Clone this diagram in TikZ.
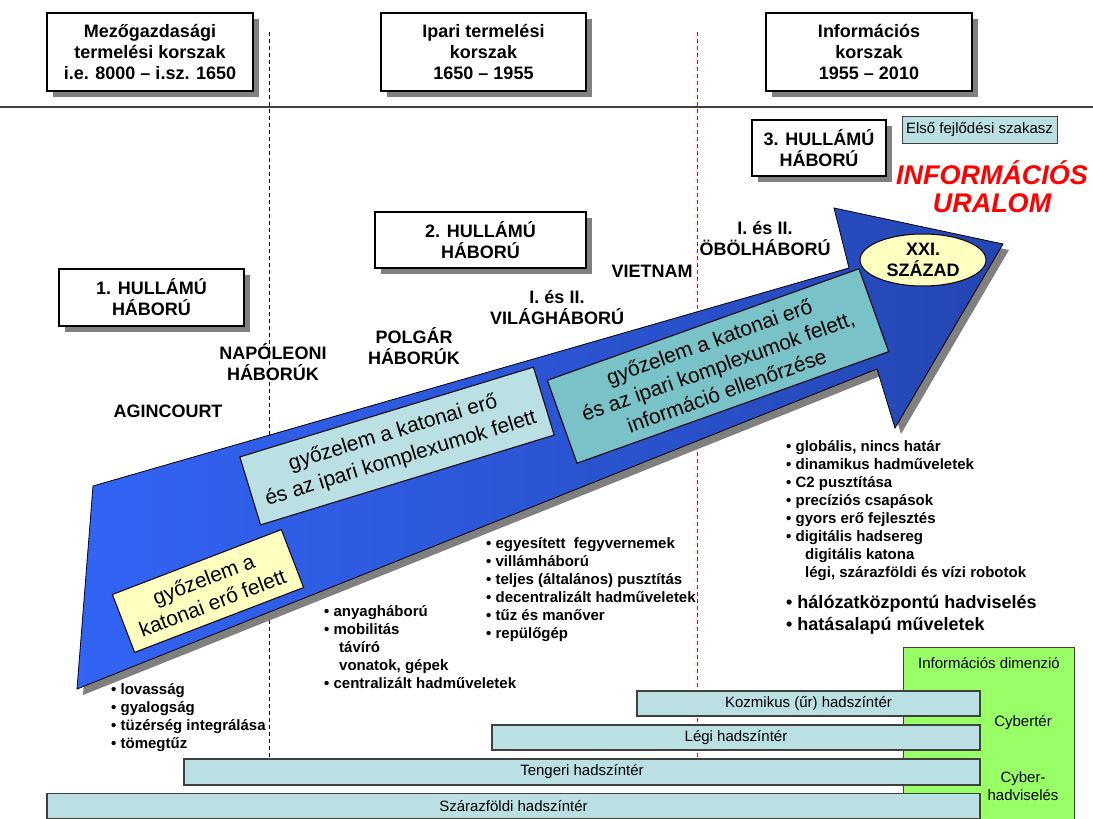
\documentclass[tikz,border=0pt]{standalone}
\usepackage{fontspec}
\setmainfont{Liberation Sans}
\usetikzlibrary{shapes.geometric,shadows}

\definecolor{arrowblue}{RGB}{50,100,245}
\definecolor{arrowdark}{RGB}{36,70,178}
\definecolor{paleyellow}{RGB}{255,255,192}
\definecolor{paletcyan}{RGB}{186,224,228}
\definecolor{tealbox}{RGB}{120,194,200}
\definecolor{cybergreen}{RGB}{153,255,102}
\definecolor{shadowgray}{RGB}{128,128,128}
\definecolor{framegray}{RGB}{64,64,64}

\tikzset{
  shd/.style={drop shadow={shadow xshift=6pt, shadow yshift=-6pt, fill=shadowgray, opacity=1}},
  era/.style={draw, line width=1.5pt, fill=white, shd, align=center, inner sep=0pt,
    font=\fontsize{18}{21}\selectfont\bfseries},
  war/.style={align=center, font=\fontsize{18}{21}\selectfont\bfseries},
  sash/.style={draw, line width=1pt, align=center, inner sep=0pt, font=\fontsize{21}{25}\selectfont},
  lst/.style={anchor=north west, align=left, inner sep=0pt, font=\fontsize{15}{18}\selectfont\bfseries},
  hadbar/.style={draw=framegray, line width=1.2pt, fill=paletcyan, inner sep=0pt,
    minimum height=25, font=\fontsize{15}{18}\selectfont},
  dimlbl/.style={align=center, font=\fontsize{15}{18}\selectfont},
}

\begin{document}
\begin{tikzpicture}[x=1pt, y=-1pt]
\useasboundingbox (0,0) rectangle (1093,819);

% era dividers
\draw[dash pattern=on 4pt off 3pt, line width=0.8pt] (269,32) -- (269,757);
\draw[red, dash pattern=on 4pt off 3pt, line width=0.8pt] (697,32) -- (697,757);

% era headers
\node[era, minimum width=206, minimum height=78] (agri) at (150,52) {Mezőgazdasági\\termelési korszak\\i.e. 8000 – i.sz. 1650};
\node[era, minimum width=205, minimum height=78] (ipar) at (483.5,52) {Ipari termelési\\korszak\\1650 – 1955};
\node[era, minimum width=206, minimum height=78] (info) at (869,52) {Információs\\korszak\\1955 – 2010};
\draw[framegray, line width=1.2pt] (0,107) -- (1093,107);

% waves
\node[era, minimum width=185, minimum height=57] (w1) at (151.5,297.5) {1. HULLÁMÚ\\HÁBORÚ};
\node[era, minimum width=211, minimum height=56] (w2) at (480.5,240) {2. HULLÁMÚ\\HÁBORÚ};
\node[era, minimum width=134, minimum height=56] (w3) at (819,148) {3. HULLÁMÚ\\HÁBORÚ};
\node[draw=framegray, line width=1pt, fill=paletcyan, minimum width=155, minimum height=27,
  inner sep=0pt, font=\fontsize{15}{18}\selectfont] (elso) at (979.5,129.5) {Első fejlődési szakasz};
\node[text=red, align=center, font=\fontsize{27}{28}\selectfont\bfseries\itshape] (uralom) at (992,187) {INFORMÁCIÓS\\URALOM};

% wars
\node[war] (agin) at (168,411) {AGINCOURT};
\node[war] (napo) at (273,362) {NAPÓLEONI\\HÁBORÚK};
\node[war] (polg) at (414,346) {POLGÁR\\HÁBORÚK};
\node[war] (vila) at (557,307) {I. és II.\\VILÁGHÁBORÚ};
\node[war] (viet) at (652,271) {VIETNAM};
\node[war] (obol) at (765,238) {I. és II.\\ÖBÖLHÁBORÚ};

% big arrow
\coordinate (tl) at (93,486);
\coordinate (nu) at (849,268);
\coordinate (ht) at (834,208);
\coordinate (tip) at (1003,244);
\coordinate (hb) at (895,428);
\coordinate (nl) at (877,369);
\coordinate (bl) at (77,689);
\path[draw, line width=0.8pt, left color=arrowblue, right color=arrowdark, shd]
  (tl) -- (nu) -- (ht) -- (tip) -- (hb) -- (nl) -- (bl) -- cycle;

\node[ellipse, draw, line width=1pt, fill=paleyellow, minimum width=126, minimum height=52, inner sep=0pt,
  align=center, font=\fontsize{18}{21}\selectfont\bfseries] (xxi) at (923,260) {XXI.\\SZÁZAD};

\node[sash, fill=paleyellow, rotate=21, minimum width=181, minimum height=62] (s1) at (208,591)
  {győzelem a\\katonai erő felett};
\node[sash, fill=paletcyan, rotate=17, minimum width=307, minimum height=71,
  font=\fontsize{21}{27}\selectfont] (s2) at (397,446)
  {győzelem a katonai erő\\és az ipari komplexumok felett};
\node[sash, fill=tealbox, rotate=19.7, minimum width=331, minimum height=88,
  font=\fontsize{21}{26}\selectfont] (s3) at (718,366)
  {győzelem a katonai erő\\és az ipari komplexumok felett,\\információ ellenőrzése};

% traits of each era
\node[lst] (l1) at (111,683) {• lovasság\\• gyalogság\\• tüzérség integrálása\\• tömegtűz};
\node[lst] (l2) at (324,605) {• anyagháború\\• mobilitás\\\hspace*{15pt}távíró\\\hspace*{15pt}vonatok, gépek\\• centralizált hadműveletek};
\node[lst] (l3) at (486,537) {• egyesített\ \ fegyvernemek\\• villámháború\\• teljes (általános) pusztítás\\• decentralizált hadműveletek\\• tűz és manőver\\• repülőgép};
\node[lst] (l4) at (786,440) {• globális, nincs határ\\• dinamikus hadműveletek\\• C2 pusztítása\\• precíziós csapások\\• gyors erő fejlesztés\\• digitális hadsereg\\\hspace*{19pt}digitális katona\\\hspace*{19pt}légi, szárazföldi és vízi robotok};
\node[lst, font=\fontsize{18}{22}\selectfont\bfseries] (l5) at (786,595) {• hálózatközpontú hadviselés\\• hatásalapú műveletek};

% battle spaces
\node[draw=framegray, line width=1.2pt, fill=cybergreen, anchor=north west, minimum width=171,
  minimum height=178, inner sep=0pt] (idim) at (903,647) {};
\node[dimlbl] (idimt) at (989,663) {Információs dimenzió};
\node[dimlbl] (cyt) at (1023,723) {Cybertér};
\node[dimlbl] (cyh) at (1023,786) {Cyber-\\hadviselés};

\node[hadbar, minimum width=343] (kozm) at (808.5,703.5) {Kozmikus (űr) hadszíntér};
\node[hadbar, minimum width=488] (legi) at (736,737.5) {Légi hadszíntér};
\node[hadbar, minimum width=796, minimum height=26] (teng) at (582,772) {Tengeri hadszíntér};
\node[hadbar, minimum width=933] (szar) at (513.5,806) {Szárazföldi hadszíntér};
\end{tikzpicture}
\end{document}
